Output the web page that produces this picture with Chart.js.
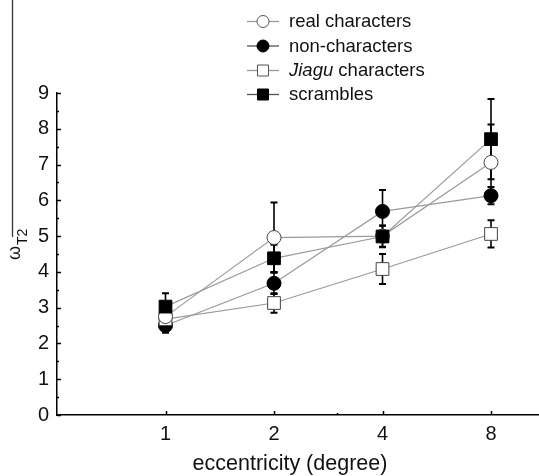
<!DOCTYPE html>
<html>
<head>
<meta charset="utf-8">
<script src="https://cdn.jsdelivr.net/npm/chart.js@4/dist/chart.umd.min.js"></script>
<style>
  html, body { margin: 0; padding: 0; background: #fff; }
  #wrap { width: 539px; height: 476px; }
</style>
</head>
<body>
<div id="wrap"><canvas id="omegaChart" width="539" height="476"></canvas></div>
<script>
// eccentricity steps (degree) and the mean / error per condition
const eccentricity = [1, 2, 4, 8];
const yTicks = [0, 1, 2, 3, 4, 5, 6, 7, 8, 9];

const realChars = [2.75, 4.96, 5.0, 7.06];
const realErr = [0.2, 0.98, 0.3, 1.06];

const nonChars = [2.5, 3.68, 5.69, 6.13];
const nonErr = [0.2, 0.3, 0.6, 0.24];

const jiaguChars = [2.68, 3.13, 4.08, 5.06];
const jiaguErr = [0.2, 0.27, 0.42, 0.38];

const scrambles = [3.03, 4.38, 4.99, 7.71];
const scramblesErr = [0.37, 0.38, 0.3, 1.12];

const FONT = 'Liberation Sans, Arial, sans-serif';

function series(label, values, errors, style, filled, order) {
  return {
    label: label,
    data: eccentricity.map((x, i) => ({ x: x, y: values[i] })),
    errors: errors,
    borderColor: '#9a9a9a',
    borderWidth: 1.2,
    pointStyle: style,
    pointRadius: style === 'rect' ? 9 : 7,
    pointHoverRadius: style === 'rect' ? 9 : 7,
    pointBackgroundColor: filled ? '#000' : '#fff',
    pointBorderColor: filled ? '#000' : '#444',
    pointBorderWidth: 1,
    fill: false,
    tension: 0,
    order: order
  };
}

// vertical error bars with caps, drawn under the markers
const errorBars = {
  id: 'errorBars',
  beforeDatasetsDraw(chart) {
    const ctx = chart.ctx;
    const x = chart.scales.x, y = chart.scales.y;
    ctx.save();
    ctx.strokeStyle = '#000';
    chart.data.datasets.forEach(ds => {
      ds.data.forEach((p, i) => {
        const e = ds.errors[i];
        const px = x.getPixelForValue(p.x);
        const top = y.getPixelForValue(p.y + e);
        const bot = y.getPixelForValue(p.y - e);
        ctx.lineWidth = 1.6;
        ctx.beginPath();
        ctx.moveTo(px, top);
        ctx.lineTo(px, bot);
        ctx.stroke();
        ctx.lineWidth = 2;
        ctx.beginPath();
        ctx.moveTo(px - 3.5, top);
        ctx.lineTo(px + 3.5, top);
        ctx.moveTo(px - 3.5, bot);
        ctx.lineTo(px + 3.5, bot);
        ctx.stroke();
      });
    });
    ctx.restore();
  }
};

// inward tick marks, axis titles and the legend box
const decorations = {
  id: 'decorations',
  afterDraw(chart) {
    const ctx = chart.ctx;
    const x = chart.scales.x, y = chart.scales.y;
    const area = chart.chartArea;
    ctx.save();
    ctx.strokeStyle = '#000';
    ctx.lineWidth = 1.5;

    // y ticks: major on integers, minor on halves
    yTicks.forEach(v => {
      const py = Math.round(y.getPixelForValue(v)) + 0.5;
      ctx.beginPath();
      ctx.moveTo(area.left, py);
      ctx.lineTo(area.left + 4, py);
      ctx.stroke();
      if (v < 9) {
        const pm = Math.round(y.getPixelForValue(v + 0.5)) + 0.5;
        ctx.beginPath();
        ctx.moveTo(area.left, pm);
        ctx.lineTo(area.left + 2, pm);
        ctx.stroke();
      }
    });

    // x ticks
    eccentricity.forEach(v => {
      const px = Math.round(x.getPixelForValue(v)) + 0.5;
      ctx.beginPath();
      ctx.moveTo(px, area.bottom);
      ctx.lineTo(px, area.bottom - 4);
      ctx.stroke();
    });
    const p3 = Math.round(x.getPixelForValue(3)) + 0.5;
    ctx.beginPath();
    ctx.moveTo(p3, area.bottom);
    ctx.lineTo(p3, area.bottom - 2);
    ctx.stroke();

    // x title
    ctx.fillStyle = '#111';
    ctx.font = '21.5px ' + FONT;
    ctx.textAlign = 'center';
    ctx.textBaseline = 'middle';
    ctx.fillText('eccentricity (degree)', 290, 464);

    // y title (omega with subscript and overbar), rotated
    ctx.save();
    ctx.translate(20, 260);
    ctx.rotate(-Math.PI / 2);
    ctx.textAlign = 'left';
    ctx.textBaseline = 'alphabetic';
    ctx.font = '18px ' + FONT;
    ctx.fillText('ω', 0, 0);
    ctx.font = '14px ' + FONT;
    ctx.fillText('T2', 15, 7);
    ctx.restore();
    ctx.strokeStyle = '#333';
    ctx.lineWidth = 1.3;
    ctx.beginPath();
    ctx.moveTo(12.5, 0);
    ctx.lineTo(12.5, 237);
    ctx.stroke();

    // legend
    const rows = [
      { text: 'real characters', style: 'circle', filled: false },
      { text: 'non-characters', style: 'circle', filled: true },
      { text: 'characters', italic: 'Jiagu', style: 'rect', filled: false },
      { text: 'scrambles', style: 'rect', filled: true }
    ];
    const rowY = [21, 45.5, 70, 94];
    const mx = 263;
    rows.forEach((r, i) => {
      const cy = rowY[i] + 0.5;
      ctx.strokeStyle = r.filled ? '#555' : '#999';
      ctx.lineWidth = 1.3;
      ctx.beginPath();
      ctx.moveTo(mx - 16, cy);
      ctx.lineTo(mx + 16, cy);
      ctx.stroke();
      ctx.fillStyle = r.filled ? '#000' : '#fff';
      ctx.strokeStyle = r.filled ? '#000' : '#555';
      ctx.lineWidth = 1;
      ctx.beginPath();
      if (r.style === 'circle') {
        ctx.arc(mx, cy, 6, 0, Math.PI * 2);
      } else {
        ctx.rect(mx - 5.5, cy - 5.5, 11, 11);
      }
      ctx.fill();
      ctx.stroke();

      ctx.fillStyle = '#111';
      ctx.textAlign = 'left';
      ctx.textBaseline = 'middle';
      let tx = 289;
      if (r.italic) {
        ctx.font = 'italic 18.5px ' + FONT;
        ctx.fillText(r.italic, tx, rowY[i] + 1);
        tx += ctx.measureText(r.italic + ' ').width;
      }
      ctx.font = '18.5px ' + FONT;
      ctx.fillText(r.text, tx, rowY[i] + 1);
    });
    ctx.restore();
  }
};

new Chart(document.getElementById('omegaChart').getContext('2d'), {
  type: 'line',
  data: {
    datasets: [
      series('real characters', realChars, realErr, 'circle', false, 1),
      series('non-characters', nonChars, nonErr, 'circle', true, 3),
      series('Jiagu characters', jiaguChars, jiaguErr, 'rect', false, 2),
      series('scrambles', scrambles, scramblesErr, 'rect', true, 0)
    ]
  },
  options: {
    responsive: false,
    animation: false,
    devicePixelRatio: 1,
    layout: { autoPadding: false, padding: { top: 93, right: 0, left: 0, bottom: 0 } },
    plugins: {
      legend: { display: false },
      tooltip: { enabled: false }
    },
    scales: {
      x: {
        type: 'logarithmic',
        min: 0.5,
        max: 10.87,
        bounds: 'data',
        afterBuildTicks: (s) => {
          s.ticks = [1, 2, 4, 8].map(v => ({ value: v }));
        },
        afterFit: (s) => { s.height = 61; },
        grid: { display: false },
        border: { display: true, color: '#000', width: 1.5 },
        ticks: {
          autoSkip: false,
          maxRotation: 0,
          padding: -1,
          color: '#111',
          font: { family: FONT, size: 20 },
          callback: (v) => String(v)
        }
      },
      y: {
        min: 0,
        max: 9,
        afterBuildTicks: (s) => {
          s.ticks = yTicks.map(v => ({ value: v }));
        },
        afterFit: (s) => { s.width = 57; },
        grid: { display: false },
        border: { display: true, color: '#000', width: 1.5 },
        ticks: {
          padding: 0,
          color: '#111',
          font: { family: FONT, size: 20 }
        }
      }
    }
  },
  plugins: [errorBars, decorations]
});
</script>
</body>
</html>
